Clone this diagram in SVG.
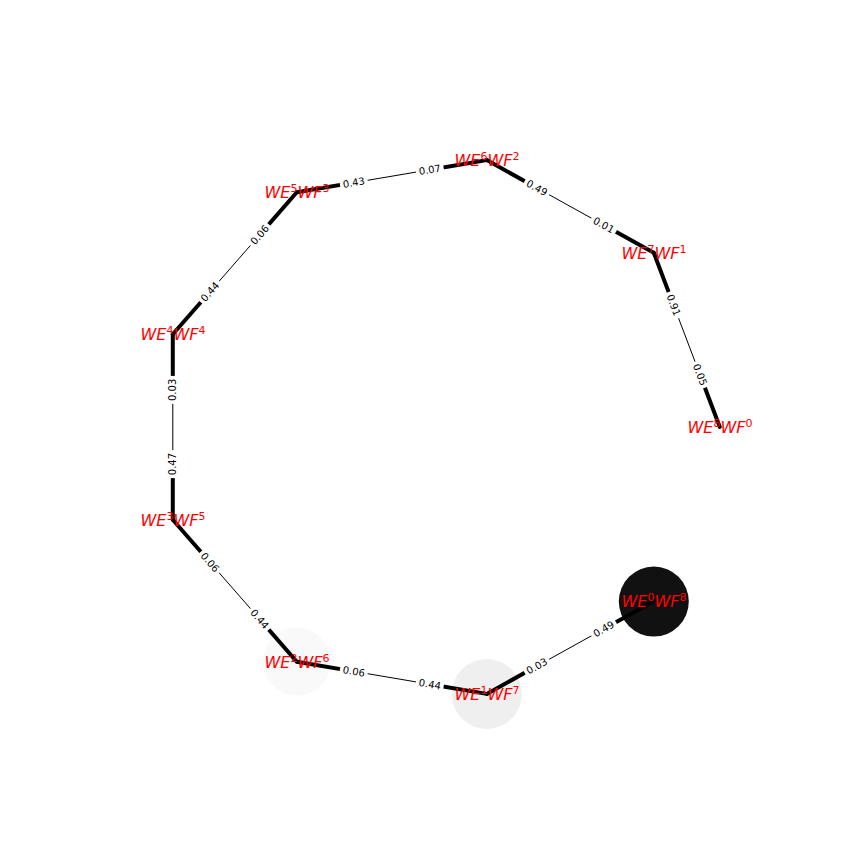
<svg xmlns="http://www.w3.org/2000/svg" width="864" height="864" viewBox="0 0 864 864">
<style>
.thin{stroke:#000;stroke-width:1;fill:none}
.thick{stroke:#000;stroke-width:4;fill:none;stroke-linecap:round}
.el rect{fill:#fff;stroke:none}
.el text{font-family:"DejaVu Sans",sans-serif;font-size:10px;fill:#000;text-anchor:middle;dominant-baseline:central}
.nl{font-family:"DejaVu Sans",sans-serif;font-size:16px;fill:#ff0000;text-anchor:middle}
.it{font-style:italic}
.sup{font-size:11px}
</style>
<rect width="864" height="864" fill="#fff"/>
<g id="nodes">
<g id="n0"><circle cx="653.8" cy="601.6" r="35" fill="#111111"/></g>
<g id="n1"><circle cx="486.8" cy="694" r="35" fill="#efefef"/></g>
<g id="n2"><circle cx="296.8" cy="661.7" r="34" fill="#f9f9f9"/></g>
<g id="n3"><circle cx="172.8" cy="519.7" r="34" fill="none"/></g>
<g id="n4"><circle cx="172.8" cy="334.3" r="34" fill="none"/></g>
<g id="n5"><circle cx="296.8" cy="192.3" r="34" fill="none"/></g>
<g id="n6"><circle cx="486.8" cy="160.1" r="34" fill="none"/></g>
<g id="n7"><circle cx="653.8" cy="252.8" r="34" fill="none"/></g>
<g id="n8"><circle cx="719.8" cy="427" r="34" fill="none"/></g>
</g>
<g id="connectors">
<g id="e7-8">
<line class="thin" x1="653.8" y1="252.8" x2="719.8" y2="427"/>
<line class="thick" x1="653.8" y1="252.8" x2="673.6" y2="305.1"/>
<line class="thick" x1="700.0" y1="374.7" x2="719.8" y2="427"/>
<g class="el" transform="translate(673.6,305.1) rotate(69.25)"><rect x="-14" y="-7" width="28" height="14"/><text>0.91</text></g>
<g class="el" transform="translate(700.0,374.7) rotate(69.25)"><rect x="-14" y="-7" width="28" height="14"/><text>0.05</text></g>
</g>
<g id="e6-7">
<line class="thin" x1="486.8" y1="160.1" x2="653.8" y2="252.8"/>
<line class="thick" x1="486.8" y1="160.1" x2="536.9" y2="187.9"/>
<line class="thick" x1="603.7" y1="225.0" x2="653.8" y2="252.8"/>
<g class="el" transform="translate(536.9,187.9) rotate(29.03)"><rect x="-14" y="-7" width="28" height="14"/><text>0.49</text></g>
<g class="el" transform="translate(603.7,225.0) rotate(29.03)"><rect x="-14" y="-7" width="28" height="14"/><text>0.01</text></g>
</g>
<g id="e5-6">
<line class="thin" x1="296.8" y1="192.3" x2="486.8" y2="160.1"/>
<line class="thick" x1="296.8" y1="192.3" x2="353.8" y2="182.6"/>
<line class="thick" x1="429.8" y1="169.8" x2="486.8" y2="160.1"/>
<g class="el" transform="translate(353.8,182.6) rotate(-9.62)"><rect x="-14" y="-7" width="28" height="14"/><text>0.43</text></g>
<g class="el" transform="translate(429.8,169.8) rotate(-9.62)"><rect x="-14" y="-7" width="28" height="14"/><text>0.07</text></g>
</g>
<g id="e4-5">
<line class="thin" x1="172.8" y1="334.3" x2="296.8" y2="192.3"/>
<line class="thick" x1="172.8" y1="334.3" x2="210.0" y2="291.7"/>
<line class="thick" x1="259.6" y1="234.9" x2="296.8" y2="192.3"/>
<g class="el" transform="translate(210.0,291.7) rotate(-48.9)"><rect x="-14" y="-7" width="28" height="14"/><text>0.44</text></g>
<g class="el" transform="translate(259.6,234.9) rotate(-48.9)"><rect x="-14" y="-7" width="28" height="14"/><text>0.06</text></g>
</g>
<g id="e3-4">
<line class="thin" x1="172.8" y1="334.3" x2="172.8" y2="519.7"/>
<line class="thick" x1="172.8" y1="334.3" x2="172.8" y2="389.9"/>
<line class="thick" x1="172.8" y1="464.1" x2="172.8" y2="519.7"/>
<g class="el" transform="translate(172.8,389.9) rotate(-90)"><rect x="-14" y="-7" width="28" height="14"/><text>0.03</text></g>
<g class="el" transform="translate(172.8,464.1) rotate(-90)"><rect x="-14" y="-7" width="28" height="14"/><text>0.47</text></g>
</g>
<g id="e2-3">
<line class="thin" x1="172.8" y1="519.7" x2="296.8" y2="661.7"/>
<line class="thick" x1="172.8" y1="519.7" x2="210.0" y2="562.3"/>
<line class="thick" x1="259.6" y1="619.1" x2="296.8" y2="661.7"/>
<g class="el" transform="translate(210.0,562.3) rotate(48.9)"><rect x="-14" y="-7" width="28" height="14"/><text>0.06</text></g>
<g class="el" transform="translate(259.6,619.1) rotate(48.9)"><rect x="-14" y="-7" width="28" height="14"/><text>0.44</text></g>
</g>
<g id="e1-2">
<line class="thin" x1="296.8" y1="661.7" x2="486.8" y2="693.9"/>
<line class="thick" x1="296.8" y1="661.7" x2="353.8" y2="671.4"/>
<line class="thick" x1="429.8" y1="684.2" x2="486.8" y2="693.9"/>
<g class="el" transform="translate(353.8,671.4) rotate(9.62)"><rect x="-14" y="-7" width="28" height="14"/><text>0.06</text></g>
<g class="el" transform="translate(429.8,684.2) rotate(9.62)"><rect x="-14" y="-7" width="28" height="14"/><text>0.44</text></g>
</g>
<g id="e0-1">
<line class="thin" x1="486.8" y1="693.9" x2="653.8" y2="601.2"/>
<line class="thick" x1="486.8" y1="693.9" x2="536.9" y2="666.1"/>
<line class="thick" x1="603.7" y1="629.0" x2="653.8" y2="601.2"/>
<g class="el" transform="translate(536.9,666.1) rotate(-29.03)"><rect x="-14" y="-7" width="28" height="14"/><text>0.03</text></g>
<g class="el" transform="translate(603.7,629.0) rotate(-29.03)"><rect x="-14" y="-7" width="28" height="14"/><text>0.49</text></g>
</g>
</g>
<g id="node-labels">
<text id="n0-label" class="nl" x="654" y="607"><tspan class="it">WE</tspan><tspan class="sup" dy="-6">0</tspan><tspan class="it" dy="6">WF</tspan><tspan class="sup" dy="-6">8</tspan></text>
<text id="n1-label" class="nl" x="487" y="700"><tspan class="it">WE</tspan><tspan class="sup" dy="-6">1</tspan><tspan class="it" dy="6">WF</tspan><tspan class="sup" dy="-6">7</tspan></text>
<text id="n2-label" class="nl" x="297" y="668"><tspan class="it">WE</tspan><tspan class="sup" dy="-6">2</tspan><tspan class="it" dy="6">WF</tspan><tspan class="sup" dy="-6">6</tspan></text>
<text id="n3-label" class="nl" x="173" y="526"><tspan class="it">WE</tspan><tspan class="sup" dy="-6">3</tspan><tspan class="it" dy="6">WF</tspan><tspan class="sup" dy="-6">5</tspan></text>
<text id="n4-label" class="nl" x="173" y="340"><tspan class="it">WE</tspan><tspan class="sup" dy="-6">4</tspan><tspan class="it" dy="6">WF</tspan><tspan class="sup" dy="-6">4</tspan></text>
<text id="n5-label" class="nl" x="297" y="198"><tspan class="it">WE</tspan><tspan class="sup" dy="-6">5</tspan><tspan class="it" dy="6">WF</tspan><tspan class="sup" dy="-6">3</tspan></text>
<text id="n6-label" class="nl" x="487" y="166"><tspan class="it">WE</tspan><tspan class="sup" dy="-6">6</tspan><tspan class="it" dy="6">WF</tspan><tspan class="sup" dy="-6">2</tspan></text>
<text id="n7-label" class="nl" x="654" y="259"><tspan class="it">WE</tspan><tspan class="sup" dy="-6">7</tspan><tspan class="it" dy="6">WF</tspan><tspan class="sup" dy="-6">1</tspan></text>
<text id="n8-label" class="nl" x="720" y="433"><tspan class="it">WE</tspan><tspan class="sup" dy="-6">8</tspan><tspan class="it" dy="6">WF</tspan><tspan class="sup" dy="-6">0</tspan></text>
</g>
</svg>
